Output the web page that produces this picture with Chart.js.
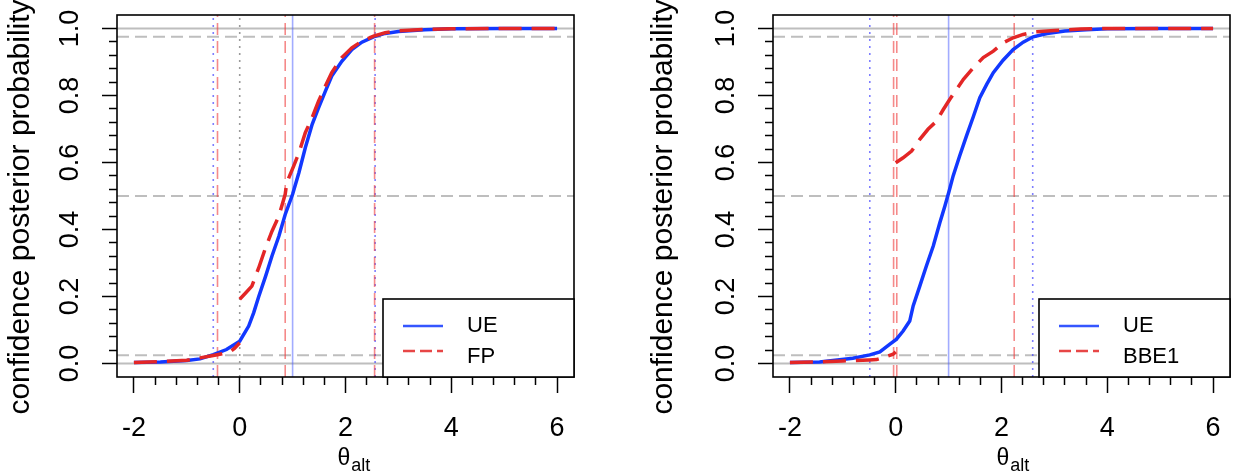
<!DOCTYPE html>
<html><head><meta charset="utf-8">
<script src="https://cdn.jsdelivr.net/npm/chart.js@4.4.1/dist/chart.umd.min.js"></script>
<style>
html,body{margin:0;padding:0;background:#fff;width:1233px;height:473px;overflow:hidden}
canvas{position:absolute;top:0}
#c1{left:0}
#c2{left:640px}
</style></head><body>
<canvas id="c1" width="620" height="473"></canvas>
<canvas id="c2" width="593" height="473"></canvas>
<script>
// ---- axis limits and ticks ----
const X_MIN = -2.32, X_MAX = 6.32, Y_MIN = -0.04, Y_MAX = 1.04;
const xTickValues = [-2,-1.6,-1.2,-0.8,-0.4,0,0.4,0.8,1.2,1.6,2,2.4,2.8,3.2,3.6,4,4.4,4.8,5.2,5.6,6];
const xMajorTicks = [-2,0,2,4,6];
const xTickLabels = ['-2','0','2','4','6'];
const yTickValues = [0,0.04,0.08,0.12,0.16,0.2,0.24,0.28,0.32,0.36,0.4,0.44,0.48,0.52,0.56,0.6,0.64,0.68,0.72,0.76,0.8,0.84,0.88,0.92,0.96,1];
const yMajorTicks = [0,0.2,0.4,0.6,0.8,1];
const yTickLabels = ['0.0','0.2','0.4','0.6','0.8','1.0'];
const yTitle = 'confidence posterior probability';
const xTitleMain = 'θ', xTitleSub = 'alt';

// ---- left panel: UE vs FP ----
const ueLeftX = [-2,-1.5,-1,-0.75,-0.5,-0.25,0,0.17,0.265,0.36,0.49,0.61,0.74,0.86,1,1.12,1.24,1.37,1.49,1.62,1.74,1.93,2.12,2.31,2.53,2.75,3,3.5,4,5,6];
const ueLeftY = [0.003,0.005,0.009,0.014,0.027,0.042,0.067,0.112,0.152,0.2,0.261,0.321,0.38,0.445,0.505,0.57,0.644,0.714,0.763,0.813,0.858,0.902,0.937,0.959,0.975,0.985,0.991,0.996,0.999,1,1];
const fpX = [-2,-1.5,-1,-0.75,-0.5,-0.2,-0.1,0,0,0,0.12,0.23,0.36,0.49,0.61,0.74,0.86,0.89,1.02,1.12,1.24,1.37,1.49,1.62,1.74,1.93,2.12,2.31,2.53,2.75,2.94,3.5,4,5,6];
const fpY = [0.003,0.006,0.01,0.017,0.024,0.033,0.045,0.062,null,0.192,0.212,0.231,0.286,0.346,0.395,0.44,0.505,0.54,0.589,0.629,0.689,0.734,0.783,0.828,0.868,0.913,0.942,0.962,0.977,0.987,0.992,0.997,0.999,1,1];
const leftBlueDotted = [-0.5,2.56];
const leftRedDashed = [-0.42,0.86,2.55];
const leftGrayDotted = [0];
const leftBlueSolid = [1];

// ---- right panel: UE vs BBE1 ----
const ueRightX = [-2,-1.44,-0.81,-0.49,-0.3,-0.11,0.01,0.14,0.265,0.33,0.455,0.58,0.71,0.834,0.93,1.01,1.086,1.21,1.34,1.47,1.59,1.72,1.845,2.03,2.22,2.41,2.6,2.86,3.2,3.6,4,5,6];
const ueRightY = [0.003,0.005,0.016,0.026,0.035,0.058,0.072,0.097,0.127,0.172,0.231,0.291,0.351,0.42,0.47,0.515,0.56,0.62,0.68,0.738,0.793,0.833,0.868,0.905,0.937,0.959,0.975,0.985,0.992,0.996,0.999,1,1];
const bbeX = [-2,-1.5,-1,-0.5,-0.36,-0.2,-0.05,0,0,0,0.14,0.3,0.455,0.61,0.77,0.9,1.02,1.15,1.28,1.47,1.655,1.845,2.03,2.22,2.41,2.6,3,3.5,4,6];
const bbeY = [0.003,0.005,0.008,0.011,0.012,0.02,0.028,0.035,null,0.599,0.614,0.634,0.669,0.699,0.723,0.758,0.788,0.818,0.848,0.883,0.913,0.932,0.957,0.972,0.982,0.989,0.994,0.998,1,1];
const rightBlueDotted = [-0.49,2.59];
const rightRedDashed = [-0.04,0.02,2.24];
const rightGrayDotted = [];
const rightBlueSolid = [1];

// ---- shared horizontal reference lines ----
const hSolid = [0,1];
const hDashed = [0.025,0.5,0.975];

const FONT = "'Liberation Sans', Arial, sans-serif";
Chart.defaults.font.family = FONT;
Chart.defaults.color = '#000';

const BLUE = '#1238ff', RED = '#e32626';
const near = (a,b) => Math.abs(a-b) < 1e-6;
const isXMajor = v => xMajorTicks.some(m => near(m,v));
const isYMajor = v => yMajorTicks.some(m => near(m,v));

function pts(xs, ys){ return xs.map((x,i) => ({x:x, y:ys[i]})); }
function vlines(xs){ const d=[]; xs.forEach(v=>{d.push({x:v,y:Y_MIN},{x:v,y:Y_MAX},{x:v,y:null});}); return d; }
function hlines(ys){ const d=[]; ys.forEach(v=>{d.push({x:X_MIN,y:v},{x:X_MAX,y:v},{x:X_MAX,y:null});}); return d; }

function refSet(data, color, dash, width, order){
  return {data, borderColor:color, borderDash:dash, borderWidth:width, pointRadius:0, spanGaps:false, tension:0, order, borderCapStyle:'butt'};
}

const boxPlugin = {
  id:'box',
  afterDatasetsDraw(chart){
    const a = chart.chartArea, ctx = chart.ctx;
    ctx.save(); ctx.strokeStyle='#000'; ctx.lineWidth=1.6;
    ctx.strokeRect(a.left, a.top, a.right-a.left, a.bottom-a.top);
    ctx.restore();
  }
};
const legendPlugin = {
  id:'rlegend',
  afterDatasetsDraw(chart){
    const a = chart.chartArea, ctx = chart.ctx;
    const w=191, h=78, L=a.right-w, T=a.bottom-h;
    ctx.save();
    ctx.fillStyle='#fff'; ctx.fillRect(L,T,w,h);
    ctx.strokeStyle='#000'; ctx.lineWidth=1.6; ctx.strokeRect(L,T,w,h);
    const items = chart.data.datasets.filter(d=>d.label).sort((p,q)=>q.order-p.order);
    items.forEach((d,i)=>{
      const yl = T + 27 + i*25;
      const yt = T + 27 + i*31;
      ctx.strokeStyle=d.borderColor; ctx.globalAlpha=0.85; ctx.lineWidth=2.5; ctx.setLineDash(d.borderDash.length? [12,5]:[]);
      ctx.beginPath(); ctx.moveTo(L+20,yl); ctx.lineTo(L+60,yl); ctx.stroke();
      ctx.setLineDash([]); ctx.globalAlpha=1;
      ctx.fillStyle='#000'; ctx.font="22px "+FONT; ctx.textBaseline='middle'; ctx.textAlign='left';
      ctx.fillText(d.label, L+84, yt);
    });
    ctx.restore();
  }
};
const titlePlugin = {
  id:'titles',
  afterDraw(chart, args, opts){
    const a = chart.chartArea, ctx = chart.ctx;
    ctx.save(); ctx.fillStyle='#000';
    // x title: theta with subscript "alt"
    const cx = (a.left+a.right)/2 + opts.xShift;
    ctx.textAlign='left'; ctx.textBaseline='alphabetic';
    ctx.font="23px "+FONT;
    ctx.fillText(xTitleMain, cx, 465);
    const w = ctx.measureText(xTitleMain).width;
    ctx.font="18px "+FONT;
    ctx.fillText(xTitleSub, cx + w + 1, 471);
    // y title, rotated
    ctx.translate(opts.yBase, 207);
    ctx.rotate(-Math.PI/2);
    ctx.font="30px "+FONT; ctx.textAlign='center'; ctx.textBaseline='alphabetic';
    ctx.fillText(yTitle, 0, 0);
    ctx.restore();
  }
};

function makePanel(id, yAxisWidth, padRight, yBase, xShift, seriesTop, seriesBlue, blueDotted, redDashed, grayDotted, blueSolid){
  const datasets = [
    {label:seriesTop.label, data:pts(seriesTop.xs, seriesTop.ys), borderColor:RED, borderDash:[23,10], borderWidth:3.5, pointRadius:0, spanGaps:false, tension:0, order:0, borderCapStyle:'butt'},
    {label:seriesBlue.label, data:pts(seriesBlue.xs, seriesBlue.ys), borderColor:BLUE, borderDash:[], borderWidth:3.5, pointRadius:0, spanGaps:false, tension:0, order:1},
    refSet(vlines(redDashed), 'rgba(238,60,60,0.6)', [12,6], 1.6, 2),
    refSet(vlines(blueDotted), 'rgba(40,40,255,0.6)', [2,5], 1.6, 3),
    refSet(vlines(blueSolid), 'rgba(70,90,255,0.5)', [], 1.6, 4),
    refSet(vlines(grayDotted), '#9a9a9a', [2,5], 1.6, 5),
    refSet(hlines(hDashed), '#bebebe', [12,6], 2, 6),
    refSet(hlines(hSolid), '#bebebe', [], 2, 7)
  ];
  return new Chart(document.getElementById(id), {
    type:'line',
    data:{datasets},
    plugins:[boxPlugin, legendPlugin, titlePlugin],
    options:{
      responsive:false, animation:false, devicePixelRatio:1,
      layout:{padding:{top:15, right:padRight, left:0, bottom:0}},
      plugins:{legend:{display:false}, tooltip:{enabled:false}, titles:{yBase:yBase, xShift:xShift}},
      scales:{
        x:{type:'linear', position:'bottom', min:X_MIN, max:X_MAX,
          afterBuildTicks(s){ s.ticks = xTickValues.map(v=>({value:v})); },
          afterFit(s){ s.height = 96; s.paddingLeft=0; s.paddingRight=0; s.paddingTop=0; s.paddingBottom=0; },
          border:{display:false},
          grid:{drawOnChartArea:false, drawTicks:true, tickLength:16, tickColor:'#000', tickWidth:1.5,
            tickBorderDash: c => (c.tick && isXMajor(c.tick.value)) ? [] : [8,100]},
          ticks:{autoSkip:false, maxRotation:0, minRotation:0, padding:19, color:'#000',
            font:{size:27},
            callback:(v)=>{ const k = xMajorTicks.findIndex(m=>near(m,v)); return k>=0 ? xTickLabels[k] : ''; }}
        },
        y:{type:'linear', position:'left', min:Y_MIN, max:Y_MAX,
          afterBuildTicks(s){ s.ticks = yTickValues.map(v=>({value:v})); },
          afterFit(s){ s.width = yAxisWidth; s.paddingLeft=0; s.paddingRight=0; s.paddingTop=0; s.paddingBottom=0; },
          border:{display:false},
          grid:{drawOnChartArea:false, drawTicks:true, tickLength:15, tickColor:'#000', tickWidth:1.5,
            tickBorderDash: c => (c.tick && isYMajor(c.tick.value)) ? [] : [0,7,8,100]},
          title:{display:false},
          ticks:{autoSkip:false, minRotation:90, maxRotation:90, crossAlign:'center', padding:13, color:'#000',
            font:{size:27},
            callback:(v)=>{ const k = yMajorTicks.findIndex(m=>near(m,v)); return k>=0 ? yTickLabels[k] : ''; }}
        }
      }
    }
  });
}

makePanel('c1', 117, 46, 29, -8, {label:'FP', xs:fpX, ys:fpY}, {label:'UE', xs:ueLeftX, ys:ueLeftY},
  leftBlueDotted, leftRedDashed, leftGrayDotted, leftBlueSolid);
makePanel('c2', 133, 3, 32, -5, {label:'BBE1', xs:bbeX, ys:bbeY}, {label:'UE', xs:ueRightX, ys:ueRightY},
  rightBlueDotted, rightRedDashed, rightGrayDotted, rightBlueSolid);
</script>
</body></html>
